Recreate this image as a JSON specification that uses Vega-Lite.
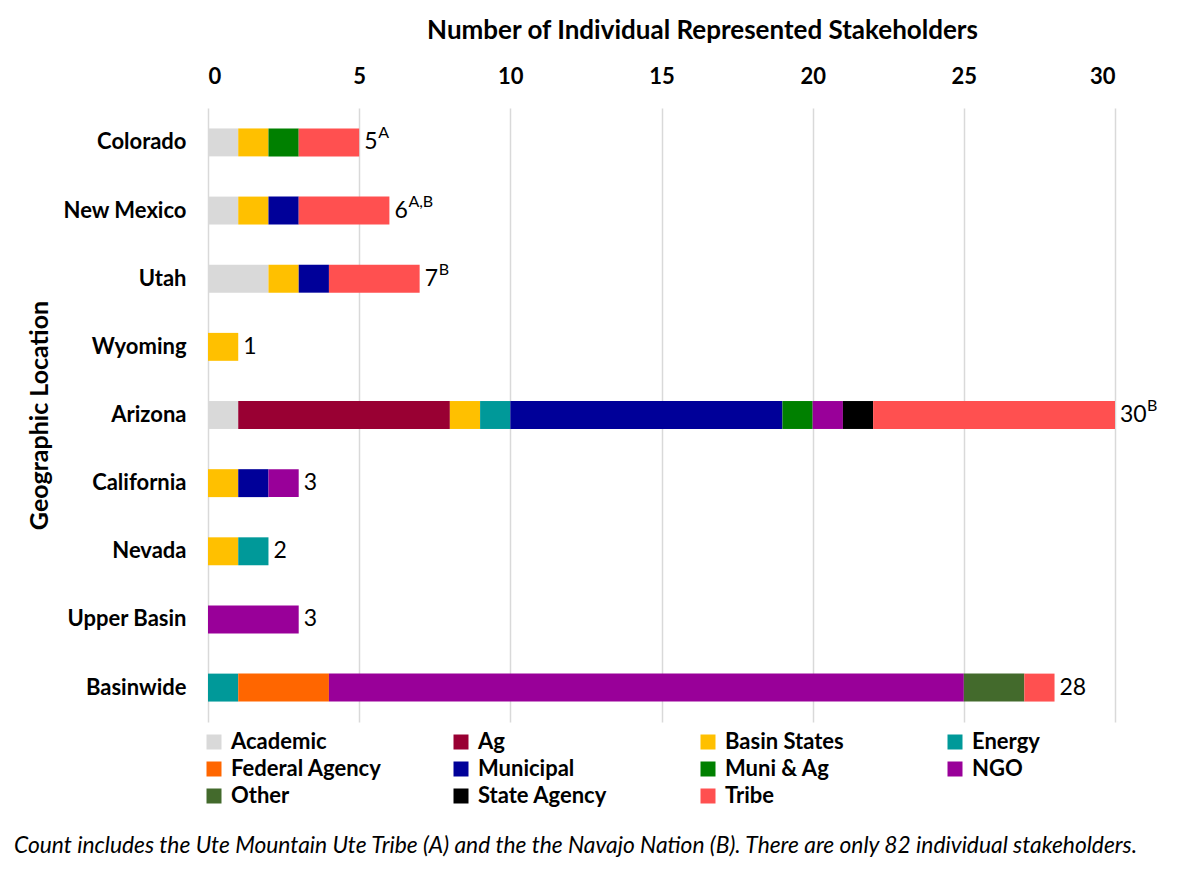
{
  "$schema": "https://vega.github.io/schema/vega-lite/v6.json",
  "width": 907,
  "height": 614,
  "autosize": {"type": "none"},
  "padding": {"left": 208, "top": 108, "right": 62, "bottom": 150},
  "background": "white",
  "config": {"font": "Lato", "view": {"stroke": null}},
  "title": {
    "text": "Count includes the Ute Mountain Ute Tribe (A) and the the Navajo Nation (B). There are only 82 individual stakeholders.",
    "orient": "bottom",
    "anchor": "start",
    "frame": "group",
    "dx": -194,
    "offset": 28,
    "font": "Lato",
    "fontStyle": "italic",
    "fontWeight": "normal",
    "fontSize": 22.8,
    "color": "#000000"
  },
  "datasets": {
    "counts": [
      {"location": "Colorado", "type": "Academic", "count": 1},
      {"location": "Colorado", "type": "Basin States", "count": 1},
      {"location": "Colorado", "type": "Muni & Ag", "count": 1},
      {"location": "Colorado", "type": "Tribe", "count": 2},
      {"location": "New Mexico", "type": "Academic", "count": 1},
      {"location": "New Mexico", "type": "Basin States", "count": 1},
      {"location": "New Mexico", "type": "Municipal", "count": 1},
      {"location": "New Mexico", "type": "Tribe", "count": 3},
      {"location": "Utah", "type": "Academic", "count": 2},
      {"location": "Utah", "type": "Basin States", "count": 1},
      {"location": "Utah", "type": "Municipal", "count": 1},
      {"location": "Utah", "type": "Tribe", "count": 3},
      {"location": "Wyoming", "type": "Basin States", "count": 1},
      {"location": "Arizona", "type": "Academic", "count": 1},
      {"location": "Arizona", "type": "Ag", "count": 7},
      {"location": "Arizona", "type": "Basin States", "count": 1},
      {"location": "Arizona", "type": "Energy", "count": 1},
      {"location": "Arizona", "type": "Municipal", "count": 9},
      {"location": "Arizona", "type": "Muni & Ag", "count": 1},
      {"location": "Arizona", "type": "NGO", "count": 1},
      {"location": "Arizona", "type": "State Agency", "count": 1},
      {"location": "Arizona", "type": "Tribe", "count": 8},
      {"location": "California", "type": "Basin States", "count": 1},
      {"location": "California", "type": "Municipal", "count": 1},
      {"location": "California", "type": "NGO", "count": 1},
      {"location": "Nevada", "type": "Basin States", "count": 1},
      {"location": "Nevada", "type": "Energy", "count": 1},
      {"location": "Upper Basin", "type": "NGO", "count": 3},
      {"location": "Basinwide", "type": "Energy", "count": 1},
      {"location": "Basinwide", "type": "Federal Agency", "count": 3},
      {"location": "Basinwide", "type": "NGO", "count": 21},
      {"location": "Basinwide", "type": "Other", "count": 2},
      {"location": "Basinwide", "type": "Tribe", "count": 1}
    ],
    "totals": [
      {"location": "Colorado", "total": 5, "sup": "A", "digits": 1},
      {"location": "New Mexico", "total": 6, "sup": "A,B", "digits": 1},
      {"location": "Utah", "total": 7, "sup": "B", "digits": 1},
      {"location": "Wyoming", "total": 1, "sup": "", "digits": 1},
      {"location": "Arizona", "total": 30, "sup": "B", "digits": 2},
      {"location": "California", "total": 3, "sup": "", "digits": 1},
      {"location": "Nevada", "total": 2, "sup": "", "digits": 1},
      {"location": "Upper Basin", "total": 3, "sup": "", "digits": 1},
      {"location": "Basinwide", "total": 28, "sup": "", "digits": 2}
    ]
  },
  "layer": [
    {
      "data": {"name": "counts"},
      "transform": [
        {
          "lookup": "type",
          "from": {
            "data": {
              "values": [
                {"type": "Academic", "rank": 1},
                {"type": "Ag", "rank": 2},
                {"type": "Basin States", "rank": 3},
                {"type": "Energy", "rank": 4},
                {"type": "Federal Agency", "rank": 5},
                {"type": "Municipal", "rank": 6},
                {"type": "Muni & Ag", "rank": 7},
                {"type": "NGO", "rank": 8},
                {"type": "Other", "rank": 9},
                {"type": "State Agency", "rank": 10},
                {"type": "Tribe", "rank": 11}
              ]
            },
            "key": "type",
            "fields": ["rank"]
          }
        }
      ],
      "mark": {"type": "bar"},
      "encoding": {
        "y": {
          "field": "location",
          "type": "nominal",
          "sort": ["Colorado", "New Mexico", "Utah", "Wyoming", "Arizona", "California", "Nevada", "Upper Basin", "Basinwide"],
          "scale": {"paddingInner": 0.59, "paddingOuter": 0.3},
          "axis": {
            "title": "Geographic Location",
            "titleFont": "Lato",
            "titleFontSize": 25,
            "titleFontWeight": "bold",
            "titleColor": "#000000",
            "titlePadding": 10,
            "labelFont": "Lato",
            "labelFontSize": 22,
            "labelFontWeight": "bold",
            "labelColor": "#000000",
            "labelPadding": 22,
            "domain": false,
            "ticks": false,
            "grid": false
          }
        },
        "x": {
          "field": "count",
          "type": "quantitative",
          "stack": "zero",
          "scale": {"domain": [0, 30], "nice": false},
          "axis": {
            "orient": "top",
            "title": "Number of Individual Represented Stakeholders",
            "titleFont": "Lato",
            "titleFontSize": 26,
            "titleFontWeight": "bold",
            "titleColor": "#000000",
            "titlePadding": 22,
            "titleX": 494,
            "titleAlign": "center",
            "labelFont": "Lato",
            "labelFontSize": 22,
            "labelFontWeight": "bold",
            "labelColor": "#000000",
            "labelPadding": 20,
            "values": [0, 5, 10, 15, 20, 25, 30],
            "domain": false,
            "ticks": false,
            "grid": true,
            "gridColor": "#D9D9D9",
            "gridWidth": 1.5
          }
        },
        "color": {
          "field": "type",
          "type": "nominal",
          "scale": {
            "domain": ["Academic", "Ag", "Basin States", "Energy", "Federal Agency", "Municipal", "Muni & Ag", "NGO", "Other", "State Agency", "Tribe"],
            "range": ["#D9D9D9", "#990033", "#FFC000", "#009999", "#FF6600", "#000099", "#008000", "#990099", "#436A2C", "#000000", "#FF5050"]
          },
          "legend": {
            "title": null,
            "orient": "none",
            "legendX": -5,
            "legendY": 623,
            "direction": "horizontal",
            "columns": 4,
            "gridAlign": "all",
            "columnPadding": 68,
            "rowPadding": 5,
            "symbolType": "square",
            "symbolSize": 225,
            "symbolStrokeWidth": 0,
            "labelFont": "Lato",
            "labelFontSize": 22,
            "labelFontWeight": "bold",
            "labelColor": "#000000",
            "labelOffset": 6,
            "labelLimit": 300
          }
        },
        "order": {"field": "rank", "type": "quantitative"}
      }
    },
    {
      "data": {"name": "totals"},
      "mark": {"type": "text", "align": "left", "baseline": "middle", "dx": 5, "fontSize": 23, "font": "Lato", "color": "#000000"},
      "encoding": {
        "y": {"field": "location", "type": "nominal", "sort": ["Colorado", "New Mexico", "Utah", "Wyoming", "Arizona", "California", "Nevada", "Upper Basin", "Basinwide"]},
        "x": {"field": "total", "type": "quantitative"},
        "text": {"field": "total", "type": "quantitative"}
      }
    },
    {
      "data": {"name": "totals"},
      "transform": [{"filter": "datum.digits == 1"}],
      "mark": {"type": "text", "align": "left", "baseline": "middle", "dx": 19, "dy": -9, "fontSize": 16, "font": "Lato", "color": "#000000"},
      "encoding": {
        "y": {"field": "location", "type": "nominal", "sort": ["Colorado", "New Mexico", "Utah", "Wyoming", "Arizona", "California", "Nevada", "Upper Basin", "Basinwide"]},
        "x": {"field": "total", "type": "quantitative"},
        "text": {"field": "sup", "type": "nominal"}
      }
    },
    {
      "data": {"name": "totals"},
      "transform": [{"filter": "datum.digits == 2"}],
      "mark": {"type": "text", "align": "left", "baseline": "middle", "dx": 32, "dy": -9, "fontSize": 16, "font": "Lato", "color": "#000000"},
      "encoding": {
        "y": {"field": "location", "type": "nominal", "sort": ["Colorado", "New Mexico", "Utah", "Wyoming", "Arizona", "California", "Nevada", "Upper Basin", "Basinwide"]},
        "x": {"field": "total", "type": "quantitative"},
        "text": {"field": "sup", "type": "nominal"}
      }
    }
  ]
}
